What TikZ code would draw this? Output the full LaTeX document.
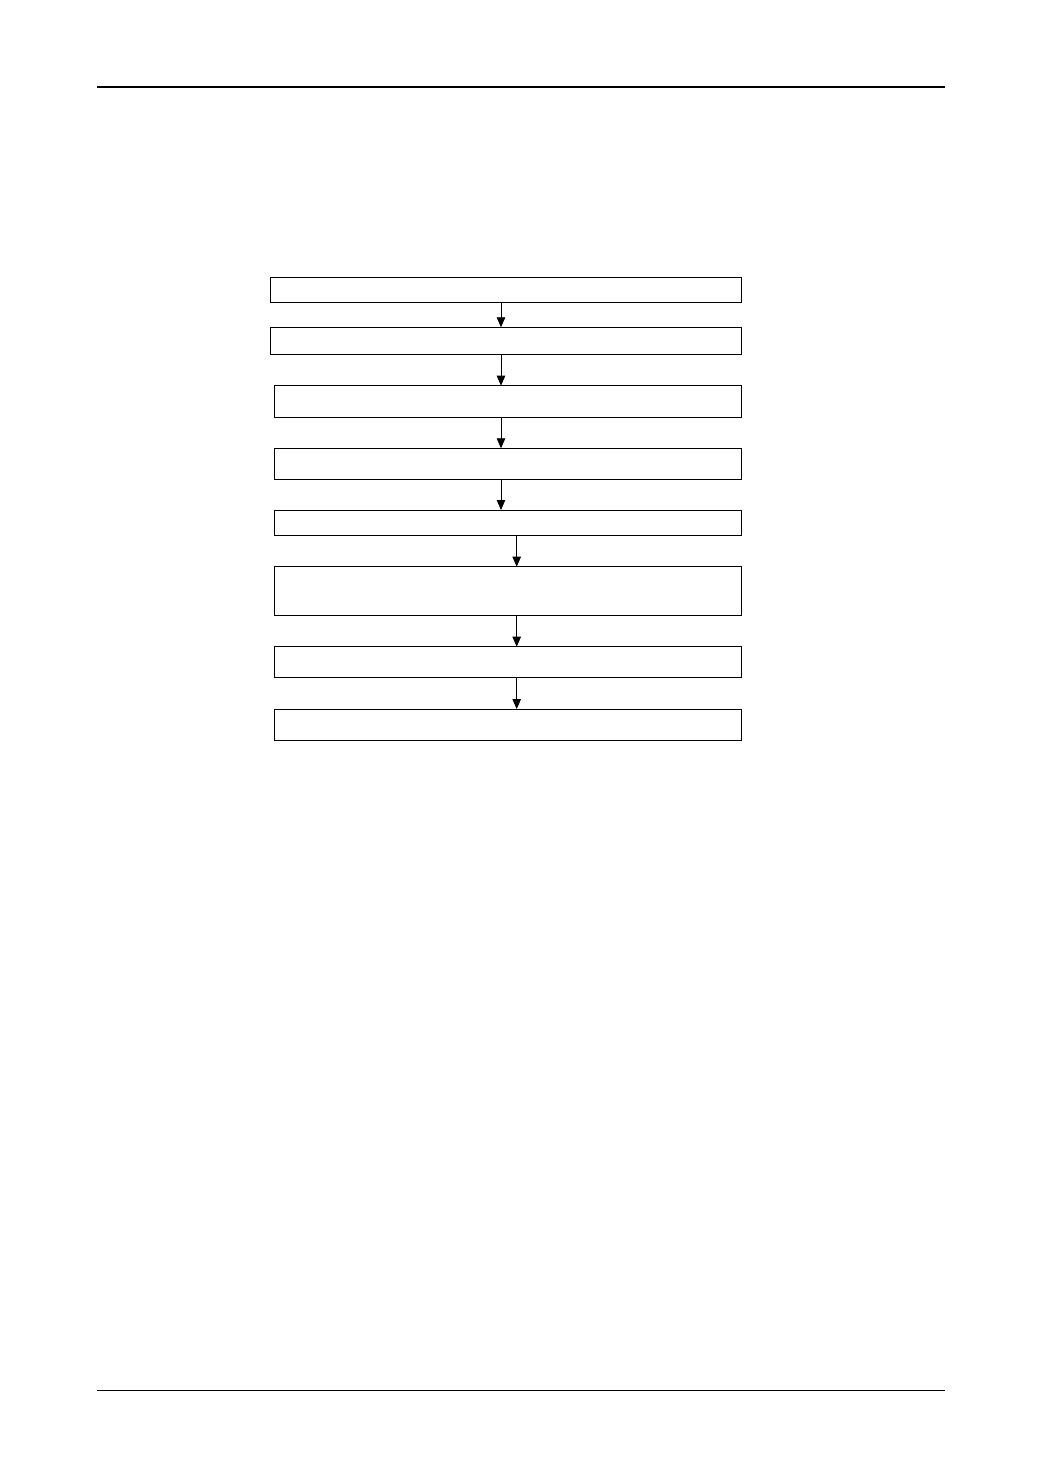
\documentclass[tikz,border=0pt]{standalone}
\usetikzlibrary{arrows.meta}

\begin{document}
\begin{tikzpicture}[x=1pt,y=-1pt,line width=0.8pt]
        %
        % `block' is used for the empty boxes of the flow chart.
        % `flow' is used for the arrows between them.
        \tikzstyle{block} = [draw,fill=white,inner sep=0pt,outer sep=0pt,minimum width=466.7pt]
        \tikzstyle{flow} = [-{Triangle[length=10pt,width=8.5pt]}]
        \tikzstyle{rule} = [line width=1.2pt]
        %
        % Page
        \useasboundingbox (0,0) rectangle (1040,1473);
        \coordinate (rl) at (97,87);
        \coordinate (rr) at (945,87);
        \coordinate (bl) at (97,1390.5);
        \coordinate (br) at (945,1390.5);
        \draw[rule] (rl) -- (rr);
        \draw[rule] (bl) -- (br);
        %
        % Boxes
        \node[block,minimum width=471pt,minimum height=25pt] (b1) at (505.5,289.8) {};
        \node[block,minimum width=471pt,minimum height=27pt] (b2) at (505.5,340.8) {};
        \node[block,minimum height=31.3pt] (b3) at (507.7,401.3) {};
        \node[block,minimum height=31pt] (b4) at (507.7,463.8) {};
        \node[block,minimum height=25pt] (b5) at (507.7,522.5) {};
        \node[block,minimum height=49pt] (b6) at (507.7,591.2) {};
        \node[block,minimum height=31pt] (b7) at (507.7,662.2) {};
        \node[block,minimum height=31.3pt] (b8) at (507.7,724.7) {};
        %
        % Arrow columns
        \coordinate (c1) at (501,0);
        \coordinate (c2) at (516.7,0);
        %
        % Arrows
        \draw[flow] (b1.south -| c1) -- (b2.north -| c1);
        \draw[flow] (b2.south -| c1) -- (b3.north -| c1);
        \draw[flow] (b3.south -| c1) -- (b4.north -| c1);
        \draw[flow] (b4.south -| c1) -- (b5.north -| c1);
        \draw[flow] (b5.south -| c2) -- (b6.north -| c2);
        \draw[flow] (b6.south -| c2) -- (b7.north -| c2);
        \draw[flow] (b7.south -| c2) -- (b8.north -| c2);
        %
\end{tikzpicture}
\end{document}
